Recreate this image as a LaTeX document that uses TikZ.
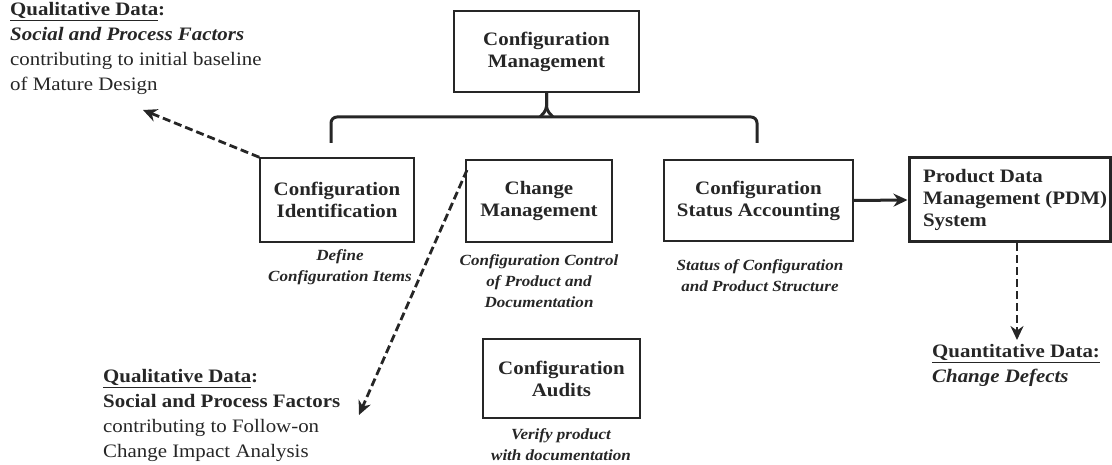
\documentclass[tikz,border=0pt]{standalone}
\usepackage{fontspec}
\setmainfont{Liberation Serif}[FakeStretch=1.1]
\usetikzlibrary{arrows.meta}
\begin{document}
\begin{tikzpicture}[x=1pt,y=-1pt,
  box/.style={draw=black!85, line width=1.5pt, inner sep=0pt},
  boxtext/.style={align=center, font=\fontsize{19}{22}\selectfont\bfseries, text=black!85},
  note/.style={align=center, font=\fontsize{15.5}{21}\selectfont\bfseries\itshape, text=black!85},
  para/.style={align=left, font=\fontsize{19}{25}\selectfont, text=black!85, inner sep=0pt},
  dasharrow/.style={draw=black!85, line width=2.8pt, dash pattern=on 8pt off 4pt, -{Stealth[length=14pt,width=13pt]}},
]
\useasboundingbox (0,0) rectangle (1112,465);

% boxes
\node[box, minimum width=185pt, minimum height=81pt] (cm) at (546.5,51.5) {};
\node[boxtext] at (cm) {Configuration\\Management};

\node[box, minimum width=154pt, minimum height=84pt] (ci) at (337,200) {};
\node[boxtext] at (ci) {Configuration\\Identification};

\node[box, minimum width=146pt, minimum height=82pt] (chm) at (539,201) {};
\node[boxtext] at (chm) {Change\\Management};

\node[box, minimum width=189pt, minimum height=81pt] (csa) at (758.5,200.5) {};
\node[boxtext] at (csa) {Configuration\\Status Accounting};

\node[box, line width=3pt, minimum width=201pt, minimum height=84pt] (pdm) at (1009.5,200) {};
\node[boxtext, align=left, anchor=west] at ([xshift=12pt]pdm.west) {Product Data\\Management (PDM)\\System};

\node[box, minimum width=157pt, minimum height=79pt] (ca) at (561.5,378.5) {};
\node[boxtext] at (ca) {Configuration\\Audits};

% notes under the boxes
\node[note] (nci) at (340,267) {Define\\Configuration Items};
\node[note] (nchm) at (539,281) {Configuration Control\\of Product and\\Documentation};
\node[note] (ncsa) at (760,276) {Status of Configuration\\and Product Structure};
\node[note] (nca) at (561,445) {Verify product\\with documentation};

% bracket from the top box to the three processes
\coordinate (bl) at (331,143);
\coordinate (br) at (757,143);
\draw[line width=3pt, black!85, rounded corners=6pt] (bl) -- (331,117) -- (757,117) -- (br);
\draw[line width=3pt, black!85, rounded corners=4pt] (cm.south) -- (546.5,110) -- (540,117);
\draw[line width=3pt, black!85, rounded corners=4pt] (cm.south) -- (546.5,110) -- (553,117);

% solid connector to PDM
\draw[draw=black!85, line width=3pt, -{Stealth[length=14pt,width=13pt]}] (csa.east) -- (pdm.west);

% data texts
\node[para, anchor=north west] (q1) at (10,2) {\bfseries\underline{Qualitative Data}:\\
  \bfseries\itshape Social and Process Factors\\
  contributing to initial baseline\\
  of Mature Design};

\node[para, anchor=north west] (q2) at (103,369) {\bfseries\underline{Qualitative Data}:\\
  \bfseries Social and Process Factors\\
  contributing to Follow-on\\
  Change Impact Analysis};

\node[para, anchor=north west] (q3) at (932,344) {\bfseries\underline{Quantitative Data:}\\
  \bfseries\itshape Change Defects};

% dashed connectors
\coordinate (t1) at (143,110);
\coordinate (t2) at (359,415);
\coordinate (s2) at (467,170);
\coordinate (t3) at (1017,340);
\draw[dasharrow] (ci.north west) -- (t1);
\draw[dasharrow] (s2) -- (t2);
\draw[dasharrow] (pdm.south -| t3) -- (t3);
\end{tikzpicture}
\end{document}
